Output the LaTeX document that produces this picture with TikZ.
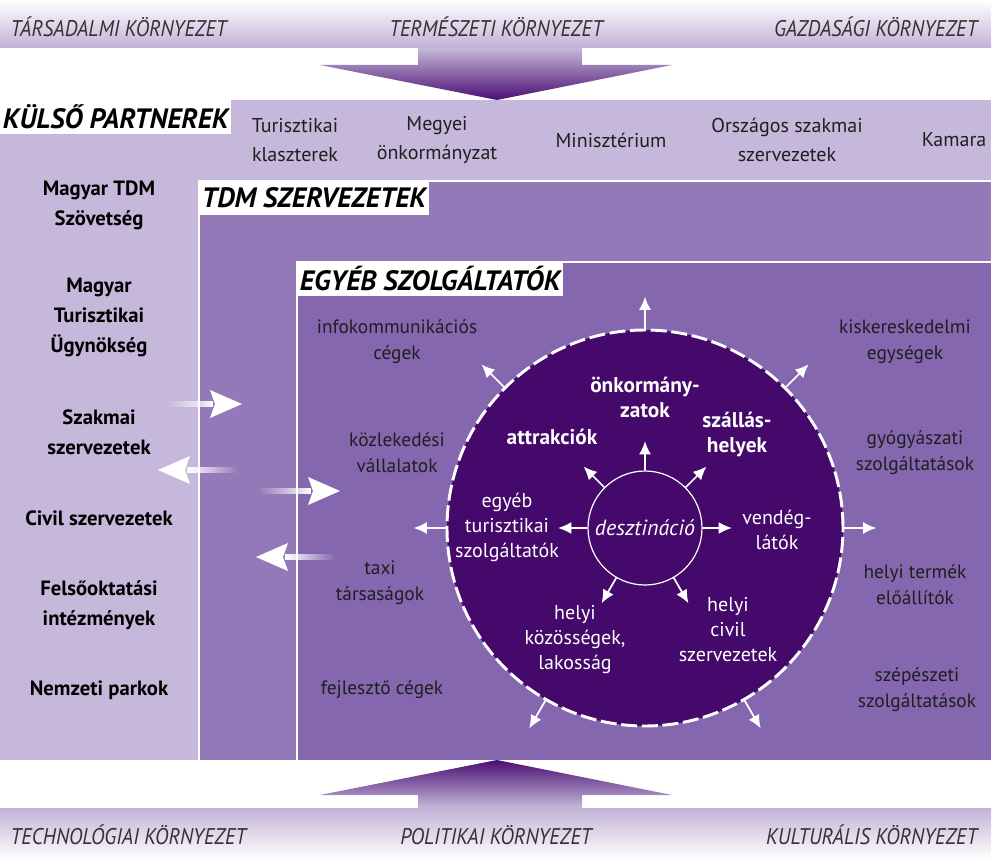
\documentclass[tikz,border=0pt]{standalone}
\usepackage{fontspec}
\setmainfont{PT Sans}
\newfontfamily\envfont[FakeStretch=0.9]{PT Sans}
\usetikzlibrary{arrows.meta,calc,fadings}
\definecolor{lavender}{HTML}{C5B8DA}
\definecolor{envband}{HTML}{C2B1D7}
\definecolor{tdmpurple}{HTML}{9379B8}
\definecolor{svcpurple}{HTML}{8467AF}
\definecolor{corepurple}{HTML}{44096B}
\definecolor{tippurple}{HTML}{4A0E72}

\begin{document}
\begin{tikzpicture}[x=0.75pt,y=-0.75pt]
	\tikzstyle{env}=[font={\envfont\itshape\fontsize{17}{19}\selectfont}, text=black!80]
	\tikzstyle{heading}=[fill=white, anchor=north west, inner xsep=2pt, inner ysep=0pt, minimum height=25pt, font={\bfseries\itshape\fontsize{21}{23}\selectfont}]
	\tikzstyle{partner}=[align=center, text=black!88, font={\fontsize{15}{21.75}\selectfont}]
	\tikzstyle{member}=[align=center, font={\bfseries\fontsize{15.5}{22.5}\selectfont}]
	\tikzstyle{provider}=[align=center, text=black!88, font={\fontsize{14.5}{19.5}\selectfont}]
	\tikzstyle{corebold}=[align=center, text=white, font={\bfseries\fontsize{16}{18.75}\selectfont}]
	\tikzstyle{core}=[align=center, text=white, font={\fontsize{15}{18.75}\selectfont}]
	\tikzstyle{ray}=[white, line width=1.3pt, -{Latex[length=10pt,width=9pt]}]
	
	\useasboundingbox (0,0) rectangle (993,859);
	
	% environment bands and the two big arrows
	\shade[top color=white, bottom color=envband] (0,0) rectangle (991,48);
	\shade[top color=envband, bottom color=white] (0,808) rectangle (991,859);
	\shade[top color=lavender, bottom color=tippurple] (418,48) -- (582,48) -- (582,65) -- (672,65) -- (497,100) -- (320,65) -- (418,65) -- cycle;
	\shade[top color=tippurple, bottom color=lavender] (497,760) -- (672,795) -- (582,795) -- (582,808) -- (418,808) -- (418,795) -- (320,795) -- cycle;
	
	\node[env, anchor=west](envTL) at (6,27) {TÁRSADALMI KÖRNYEZET};
	\node[env](envTC) at (496,27) {TERMÉSZETI KÖRNYEZET};
	\node[env, anchor=east](envTR) at (982,27) {GAZDASÁGI KÖRNYEZET};
	\node[env, anchor=west](envBL) at (6,835) {TECHNOLÓGIAI KÖRNYEZET};
	\node[env](envBC) at (496,835) {POLITIKAI KÖRNYEZET};
	\node[env, anchor=east](envBR) at (982,835) {KULTURÁLIS KÖRNYEZET};
	
	% nested regions
	\fill[lavender] (0,100) rectangle (991,760);
	\fill[tdmpurple] (199,181) rectangle (991,760);
	\draw[white, line width=2pt] (199,760) -- (199,181) -- (991,181);
	\fill[svcpurple] (297,262) rectangle (991,760);
	\draw[white, line width=2pt] (297,760) -- (297,262) -- (991,262);
	
	\node[heading](kulso) at (0,100) {KÜLSŐ PARTNEREK};
	\node[heading](tdm) at (199,181) {TDM SZERVEZETEK};
	\node[heading](egyebsz) at (297,262) {EGYÉB SZOLGÁLTATÓK};
	
	% external partners
	\node[partner](klaszter) at (295,140) {Turisztikai\\klaszterek};
	\node[partner](megye) at (437,140) {Megyei\\önkormányzat};
	\node[partner](minisz) at (611,140) {Minisztérium};
	\node[partner](orszagos) at (787,140) {Országos szakmai\\szervezetek};
	\node[partner](kamara) at (954,140) {Kamara};
	
	\node[member](tdmszov) at (99,205) {Magyar TDM\\Szövetség};
	\node[member](mtu) at (99,317) {Magyar\\Turisztikai\\Ügynökség};
	\node[member](szakmai) at (99,432) {Szakmai\\szervezetek};
	\node[member](civil) at (99,518) {Civil szervezetek};
	\node[member](felso) at (99,605) {Felsőoktatási\\intézmények};
	\node[member](nemzeti) at (99,690) {Nemzeti parkok};
	
	% other service providers
	\node[provider](infokom) at (397,342) {infokommunikációs\\cégek};
	\node[provider](kozlek) at (397,453) {közlekedési\\vállalatok};
	\node[provider](taxi) at (380,583) {taxi\\társaságok};
	\node[provider](fejleszto) at (382,690) {fejlesztő cégek};
	\node[provider](kisker) at (905,342) {kiskereskedelmi\\egységek};
	\node[provider](gyogy) at (915,453) {gyógyászati\\szolgáltatások};
	\node[provider](termek) at (915,585) {helyi termék\\előállítók};
	\node[provider](szepeszet) at (917,690) {szépészeti\\szolgáltatások};
	
	% white flow arrows between the regions
	\foreach \tl/\tp/\yy in {167/242/404, 258/340/491} {
		\fill[white, path fading=west] (\tl,\yy-3) rectangle (\tp-29,\yy+3);
		\fill[white] (\tp,\yy) -- (\tp-32,\yy-14) -- (\tp-27,\yy) -- (\tp-32,\yy+14) -- cycle;
	}
	\foreach \tl/\tp/\yy in {238/158/470, 335/256/557} {
		\fill[white, path fading=east] (\tp+29,\yy-3) rectangle (\tl,\yy+3);
		\fill[white] (\tp,\yy) -- (\tp+32,\yy-14) -- (\tp+27,\yy) -- (\tp+32,\yy+14) -- cycle;
	}
	
	% destination
	\node[circle, fill=corepurple, draw=white, line width=2.2pt, dash pattern=on 12pt off 3.5pt, minimum size=297pt, inner sep=0pt](ring) at (645,528) {};
	\node[circle, draw=white, line width=0.9pt, minimum size=85.5pt, inner sep=0pt, text=white, font={\itshape\fontsize{16.5}{18}\selectfont}](dest) at (645,528) {desztináció};
	
	\node[corebold](onkorm) at (645,397) {önkormány-\\zatok};
	\node[corebold](attrak) at (552,437) {attrakciók};
	\node[corebold](szallas) at (737,435) {szállás-\\helyek};
	\node[core](egyeb) at (507,527) {egyéb\\turisztikai\\szolgáltatók};
	\node[core](vendeg) at (777,530) {vendég-\\látók};
	\node[core](kozosseg) at (575,640) {helyi\\közösségek,\\lakosság};
	\node[core](civilsz) at (728,630) {helyi\\civil\\szervezetek};
	
	\foreach \a in {0,45,90,135,180,240,300} {
		\draw[ray] (dest.\a) -- ($(dest.\a)!-22pt!(dest.center)$);
		\draw[ray] (ring.\a) -- ($(ring.\a)!-24pt!(ring.center)$);
	}
	
\end{tikzpicture}
\end{document}
